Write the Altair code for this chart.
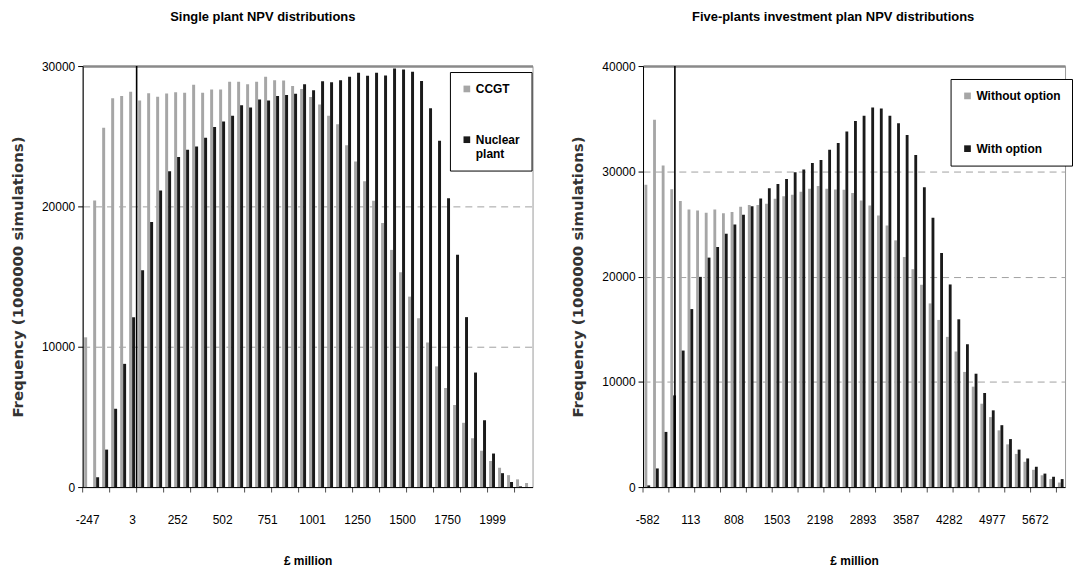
import altair as alt
import pandas as pd

# ---------------- data ----------------
left_labels = ['-247', '3', '252', '502', '751', '1001', '1250', '1500', '1750', '1999']
left_series = ['CCGT', 'Nuclear plant']
left_ccgt = [10670, 20420, 25600, 27700, 27870, 28170, 27550, 28070, 27810, 28050,
             28140, 28100, 28670, 28090, 28330, 28330, 28880, 28880, 28700, 28880,
             29240, 28990, 28970, 28570, 28370, 27800, 27260, 26450, 25860, 24350,
             23200, 21800, 20400, 18820, 16900, 15300, 13570, 12030, 10300, 8600,
             7060, 5850, 4580, 3470, 2590, 1860, 1380, 850, 550, 290]
left_nuclear = [0, 700, 2670, 5580, 8780, 12100, 15450, 18880, 21130, 22500,
                23520, 24040, 24270, 24890, 25650, 26050, 26450, 27210, 27040, 27610,
                27540, 27870, 27940, 28030, 28700, 28270, 28910, 28840, 28980, 29240,
                29520, 29310, 29520, 29330, 29830, 29760, 29600, 28930, 26990, 24670,
                20580, 16560, 12110, 8160, 4755, 2390, 990, 355, 50, 0]
left_marker = [6.0]          # bin position of the vertical reference line
left_ymax = 30000

right_labels = ['-582', '113', '808', '1503', '2198', '2893', '3587', '4282', '4977', '5672']
right_series = ['Without option', 'With option']
right_without = [28720, 34890, 30540, 28300, 27170, 26360, 26280, 26070, 26360, 26010,
                 26140, 26630, 26800, 26810, 26910, 27390, 27620, 27770, 28050, 28340,
                 28600, 28340, 28280, 28250, 27950, 27220, 26750, 25800, 24860, 23440,
                 21860, 20700, 19220, 17450, 15880, 14270, 12880, 10940, 9540, 7920,
                 6650, 5390, 4060, 3150, 2400, 1640, 1120, 760, 430]
right_with = [160, 1770, 5240, 8710, 12970, 16910, 19970, 21800, 22810, 24070,
              24950, 25870, 26690, 27410, 28390, 28800, 29270, 29900, 30160, 30790,
              31070, 32050, 32680, 33790, 34790, 35270, 36060, 35960, 35270, 34570,
              33440, 31550, 28490, 25580, 22240, 19250, 15940, 13570, 10770, 8940,
              7290, 5880, 4560, 3560, 2720, 1930, 1280, 980, 760]
right_marker = [3.7]
right_ymax = 40000

FONT = "Liberation Sans, Arial, sans-serif"
GRAY = "#a6a6a6"
BLACK = "#1a1a1a"


def panel(labels, names, s1, s2, marker, ymax, title, width, lx, ly, wrap, rowpad, tdx):
    n = len(s1)
    df = pd.DataFrame({
        'k': list(range(n)) * 2,
        'series': [names[0]] * n + [names[1]] * n,
        'value': list(s1) + list(s2),
    })
    tick_df = pd.DataFrame({'t': list(range(0, n, 3))})
    label_vals = [i * 5 + 0.5 for i in range(len(labels))]
    expr = "''"
    for v, l in reversed(list(zip(label_vals, labels))):
        expr = "(datum.value == %s ? '%s' : %s)" % (v, l, expr)
    label_axis = alt.Axis(
        values=label_vals, ticks=False, orient='bottom',
        labelExpr=expr,
        title='£ million', titleFont=FONT, titleFontSize=12, titleFontWeight='bold',
        titleColor='black', titlePadding=30,
        labelFont=FONT, labelFontSize=12, labelColor='black', labelPadding=28,
        labelAngle=0, labelFlush=False,
        domainColor='black', grid=False,
    )
    yvals = list(range(0, ymax + 1, 10000))
    yaxis = alt.Axis(
        values=yvals, format='d',
        grid=True,
        gridDash={"condition": {"test": "datum.value == %d" % ymax, "value": []}, "value": [7, 5]},
        gridWidth={"condition": {"test": "datum.value == %d" % ymax, "value": 2.5}, "value": 1},
        gridColor={"condition": {"test": "datum.value == %d" % ymax, "value": "#8a8a8a"}, "value": "#a0a0a0"},
        gridOpacity={"condition": {"test": "datum.value == 0", "value": 0}, "value": 1},
        title='Frequency (1000000 simulations)', titleFont='DejaVu Sans', titleFontSize=15,
        titleFontWeight='bold', titleColor='#333333', titlePadding=16,
        labelFont=FONT, labelFontSize=12, labelColor='black', labelPadding=3,
        tickSize=5, tickColor='black', domainColor='black',
    )
    xscale = alt.Scale(domain=[0, n], nice=False, zero=False)
    yscale = alt.Scale(domain=[0, ymax], nice=False)

    lab_expr = "split(datum.label, ' ')" if wrap else "datum.label"
    bars = alt.Chart(df).transform_calculate(
        x0="datum.k + (datum.series == '%s' ? 0.17 : 0.5)" % names[0],
        x1="datum.k + (datum.series == '%s' ? 0.5 : 0.83)" % names[0],
    ).mark_bar().encode(
        x=alt.X('x0:Q', scale=xscale, axis=label_axis),
        x2='x1:Q',
        y=alt.Y('value:Q', scale=yscale, axis=yaxis),
        y2=alt.datum(0),
        color=alt.Color('series:N', scale=alt.Scale(domain=names, range=[GRAY, BLACK]),
                        legend=alt.Legend(
                            title=None, orient='none', legendX=lx, legendY=ly,
                            strokeColor='black', fillColor='white', padding=11,
                            symbolType='square', symbolSize=45, symbolStrokeWidth=0,
                            labelFont=FONT, labelFontSize=12, labelFontWeight='bold',
                            labelColor='black', rowPadding=rowpad, labelOffset=3,
                            labelExpr=lab_expr,
                        )),
    )
    ticks = alt.Chart(tick_df).mark_tick(
        orient='vertical', size=5, thickness=1, color='black', yOffset=3
    ).encode(
        x=alt.X('t:Q', scale=xscale, axis=label_axis),
        y=alt.datum(0, scale=yscale),
    )
    mdf = pd.DataFrame({'m': marker, 'lo': [0], 'hi': [ymax]})
    rule = alt.Chart(mdf).mark_rule(color='black', strokeWidth=1.6).encode(
        x=alt.X('m:Q', scale=xscale, axis=label_axis),
        y=alt.Y('lo:Q', scale=yscale, axis=yaxis),
        y2='hi:Q',
    )
    return alt.layer(bars, ticks, rule).properties(
        width=width, height=423,
        title=alt.TitleParams(title, font=FONT, fontSize=13, fontWeight='bold',
                              color='black', anchor='middle', offset=36, dx=tdx),
    )


left = panel(left_labels, left_series, left_ccgt, left_nuclear, left_marker, left_ymax,
             'Single plant NPV distributions', 452, 369, 6, True, 39, -45)
right = panel(right_labels, right_series, right_without, right_with, right_marker, right_ymax,
              'Five-plants investment plan NPV distributions', 424, 309, 13, False, 41, -21)

chart = alt.hconcat(left, right, spacing=37).resolve_scale(
    color='independent', x='independent', y='independent'
).properties(
    padding={"left": 2, "top": 1, "right": 0, "bottom": 2},
    background='white',
).configure_view(stroke='#999999', strokeWidth=1)

chart.save("out.html", embed_options={"renderer": "svg", "actions": False})
